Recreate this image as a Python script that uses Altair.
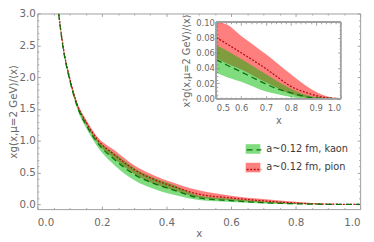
import altair as alt
import pandas as pd

series_names = ["a~0.12 fm, kaon", "a~0.12 fm, pion"]

# ---- main panel: x g(x, mu=2 GeV)/<x> ----
x_main = [0.06, 0.066, 0.08, 0.1, 0.125, 0.15, 0.183, 0.2425, 0.302, 0.362, 0.422, 0.5, 0.6, 0.7, 0.8, 0.9, 1.0]
kaon_lo = [3.25, 2.98, 2.42, 1.93, 1.48, 1.21, 0.93, 0.60, 0.375, 0.24, 0.15, 0.068, 0.037, 0.013, 0.0025, 0.0, 0.0]
kaon_mid = [3.30, 3.00, 2.45, 1.96, 1.52, 1.26, 0.99, 0.69, 0.465, 0.325, 0.225, 0.102, 0.058, 0.027, 0.0094, 0.001, 0.0]
kaon_hi = [3.35, 3.02, 2.48, 1.99, 1.56, 1.30, 1.03, 0.79, 0.565, 0.415, 0.305, 0.14, 0.087, 0.046, 0.016, 0.003, 0.0]
pion_lo = [3.27, 3.00, 2.45, 1.96, 1.52, 1.27, 0.99, 0.70, 0.475, 0.325, 0.225, 0.106, 0.063, 0.030, 0.0075, 0.0, 0.0]
pion_mid = [3.32, 3.02, 2.48, 1.99, 1.55, 1.30, 1.04, 0.765, 0.54, 0.39, 0.28, 0.16, 0.10, 0.056, 0.020, 0.003, 0.0]
pion_hi = [3.37, 3.04, 2.50, 2.02, 1.58, 1.34, 1.08, 0.84, 0.605, 0.455, 0.34, 0.22, 0.137, 0.083, 0.040, 0.008, 0.0]

# ---- inset: x^2 g(x, mu=2 GeV)/<x> ----
x_inset = [0.5, 0.536, 0.6, 0.7, 0.739, 0.8, 0.87, 0.935, 1.0]
kaon_lo_in = [0.034, 0.029, 0.022, 0.0093, 0.0064, 0.002, 0.0, 0.0, 0.0]
kaon_mid_in = [0.051, 0.045, 0.035, 0.019, 0.0135, 0.0075, 0.002, 0.0003, 0.0]
kaon_hi_in = [0.070, 0.064, 0.052, 0.032, 0.024, 0.013, 0.004, 0.0008, 0.0]
pion_lo_in = [0.053, 0.047, 0.038, 0.021, 0.015, 0.006, 0.001, 0.0, 0.0]
pion_mid_in = [0.080, 0.073, 0.060, 0.039, 0.030, 0.016, 0.007, 0.0015, 0.0]
pion_hi_in = [0.110, 0.098, 0.082, 0.058, 0.048, 0.032, 0.015, 0.004, 0.0]

# tick values
main_ticks_x = [0.0, 0.2, 0.4, 0.6, 0.8, 1.0]
main_ticks_y = [0.0, 0.5, 1.0, 1.5, 2.0, 2.5, 3.0]
main_minor_x = [0.05, 0.1, 0.15, 0.25, 0.3, 0.35, 0.45, 0.5, 0.55, 0.65, 0.7, 0.75, 0.85, 0.9, 0.95]
main_minor_y = [0.1, 0.2, 0.3, 0.4, 0.6, 0.7, 0.8, 0.9, 1.1, 1.2, 1.3, 1.4, 1.6, 1.7, 1.8, 1.9,
                2.1, 2.2, 2.3, 2.4, 2.6, 2.7, 2.8, 2.9]
inset_ticks_x = [0.5, 0.6, 0.7, 0.8, 0.9, 1.0]
inset_ticks_y = [0.0, 0.02, 0.04, 0.06, 0.08, 0.10]
inset_minor_x = [0.52, 0.54, 0.56, 0.58, 0.62, 0.64, 0.66, 0.68, 0.72, 0.74, 0.76, 0.78,
                 0.82, 0.84, 0.86, 0.88, 0.92, 0.94, 0.96, 0.98]
inset_minor_y = [0.005, 0.01, 0.015, 0.025, 0.03, 0.035, 0.045, 0.05, 0.055, 0.065, 0.07, 0.075,
                 0.085, 0.09, 0.095]


def frame(xs, lo, mid, hi, name):
    return pd.DataFrame({"x": xs, "lo": lo, "mid": mid, "hi": hi,
                         "series": name, "line": name})


# pion first so that kaon is drawn on top
main_df = pd.concat([frame(x_main, pion_lo, pion_mid, pion_hi, series_names[1]),
                     frame(x_main, kaon_lo, kaon_mid, kaon_hi, series_names[0])])
inset_df = pd.concat([frame(x_inset, pion_lo_in, pion_mid_in, pion_hi_in, series_names[1]),
                      frame(x_inset, kaon_lo_in, kaon_mid_in, kaon_hi_in, series_names[0])])

FONT = "DejaVu Sans"
GRAY = "#a0a0a0"
TXT = "#6a6a6a"
W, H = 330, 200

fill_legend = alt.Legend(orient="none", legendX=213, legendY=131, title=None,
                         symbolType="M-1,-0.65H1V0.65H-1Z", symbolSize=225,
                         symbolOpacity=0.5, symbolStrokeWidth=0,
                         labelFont=FONT, labelFontSize=10, labelColor="#3a3a3a",
                         labelOffset=6, rowPadding=6, padding=0, offset=0)
line_legend = alt.Legend(orient="none", legendX=213, legendY=131, title=None,
                         symbolType="stroke", symbolSize=225, symbolStrokeWidth=1.3,
                         labelFont=FONT, labelFontSize=10, labelExpr="''",
                         labelOffset=6, rowPadding=6, padding=0, offset=0)

fill_enc = alt.Fill("series:N", scale=alt.Scale(range=["#00b900", "#ff0000"]), legend=fill_legend)
stroke_enc = alt.Stroke("line:N", scale=alt.Scale(range=["#0a700a", "#b01010"]), legend=line_legend)
dash_enc = alt.StrokeDash("line:N", scale=alt.Scale(range=[[6, 4], [2, 1.6]]), legend=line_legend)


def tick_axis(orient, offset, size, values):
    return alt.Axis(orient=orient, offset=offset, tickSize=size, values=values,
                    labels=False, domain=False, grid=False, title=None)


# ---- main axes / scales ----
def mx_scale():
    return alt.Scale(domain=[0, 1], nice=False, zero=False)


def my_scale():
    return alt.Scale(domain=[-0.075, 3.0], nice=False, zero=False)


mx_axis = alt.Axis(orient="bottom", offset=-3, tickSize=3, domain=False, grid=False,
                   values=main_ticks_x, format=".1f", labelFontSize=10.5, labelPadding=9,
                   title="x", titlePadding=1, titleFontSize=10.5)
my_axis = alt.Axis(orient="left", offset=-3, tickSize=3, domain=False, grid=False,
                   values=main_ticks_y, format=".1f", labelFontSize=10.5, labelPadding=2,
                   title="xg(x,μ=2 GeV)/⟨x⟩", titlePadding=1, titleFontSize=10.5)

main_base = alt.Chart(main_df)
main_area = main_base.mark_area(clip=True, interpolate="monotone", fillOpacity=0.5).encode(
    x=alt.X("x:Q", scale=mx_scale(), axis=mx_axis),
    y=alt.Y("lo:Q", scale=my_scale(), axis=my_axis),
    y2="hi:Q",
    fill=fill_enc,
)
main_line = main_base.mark_line(clip=True, interpolate="monotone", strokeWidth=1.3).encode(
    x=alt.X("x:Q", scale=mx_scale(), axis=mx_axis),
    y=alt.Y("mid:Q", scale=my_scale(), axis=my_axis),
    stroke=stroke_enc,
    strokeDash=dash_enc,
)
main = alt.layer(main_area, main_line)


def ghost(df, xs, ys, xaxis, yaxis):
    return alt.Chart(df).mark_point(opacity=0, clip=True).encode(
        x=alt.X("x:Q", scale=xs, axis=xaxis),
        y=alt.Y("mid:Q", scale=ys, axis=yaxis),
    )


main_g1 = ghost(main_df, mx_scale(), my_scale(),
                tick_axis("top", -3, 3, main_ticks_x), tick_axis("right", -3, 3, main_ticks_y))
main_g2 = ghost(main_df, mx_scale(), my_scale(),
                tick_axis("bottom", -1.5, 1.5, main_minor_x), tick_axis("left", -1.5, 1.5, main_minor_y))
main_g3 = ghost(main_df, mx_scale(), my_scale(),
                tick_axis("top", -1.5, 1.5, main_minor_x), tick_axis("right", -1.5, 1.5, main_minor_y))

# ---- inset axes / scales (placed inside the same view) ----
IX = [183, 310]
IY = [87, 9]


def ix_scale():
    return alt.Scale(domain=[0.5, 1.0], range=IX, nice=False, zero=False)


def iy_scale():
    return alt.Scale(domain=[0.0, 0.1], range=IY, nice=False, zero=False, clamp=True)


ix_axis = alt.Axis(orient="bottom", offset=-(H - IY[0] + 3), tickSize=3, domain=False, grid=False,
                   values=inset_ticks_x, format=".1f", labelFontSize=8.6, labelPadding=5,
                   title="x", titlePadding=4, titleFontSize=10)
iy_axis = alt.Axis(orient="left", offset=-(IX[0] + 3), tickSize=3, domain=False, grid=False,
                   values=inset_ticks_y, format=".2f", labelFontSize=8.6, labelPadding=2,
                   title="x²g(x,μ=2 GeV)/⟨x⟩", titlePadding=4, titleFontSize=10)

inset_base = alt.Chart(inset_df)
inset_area = inset_base.mark_area(interpolate="monotone", fillOpacity=0.5).encode(
    x=alt.X("x:Q", scale=ix_scale(), axis=ix_axis),
    y=alt.Y("lo:Q", scale=iy_scale(), axis=iy_axis),
    y2="hi:Q",
    fill=fill_enc,
)
inset_line = inset_base.mark_line(interpolate="monotone", strokeWidth=1.3).encode(
    x=alt.X("x:Q", scale=ix_scale(), axis=ix_axis),
    y=alt.Y("mid:Q", scale=iy_scale(), axis=iy_axis),
    stroke=stroke_enc,
    strokeDash=dash_enc,
)
inset_frame = alt.Chart(inset_df).mark_rect(fillOpacity=0, stroke=GRAY, strokeWidth=1).encode(
    x=alt.X(datum=inset_ticks_x[0], scale=ix_scale(), axis=ix_axis),
    x2=alt.X2(datum=inset_ticks_x[-1]),
    y=alt.Y(datum=inset_ticks_y[0], scale=iy_scale(), axis=iy_axis),
    y2=alt.Y2(datum=inset_ticks_y[-1]),
)
inset = alt.layer(inset_area, inset_line, inset_frame)

in_g1 = ghost(inset_df, ix_scale(), iy_scale(),
              tick_axis("top", -(IY[1] + 3), 3, inset_ticks_x),
              tick_axis("right", -(W - IX[1] + 3), 3, inset_ticks_y))
in_g2 = ghost(inset_df, ix_scale(), iy_scale(),
              tick_axis("bottom", -(H - IY[0] + 1.5), 1.5, inset_minor_x),
              tick_axis("left", -(IX[0] + 1.5), 1.5, inset_minor_y))
in_g3 = ghost(inset_df, ix_scale(), iy_scale(),
              tick_axis("top", -(IY[1] + 1.5), 1.5, inset_minor_x),
              tick_axis("right", -(W - IX[1] + 1.5), 1.5, inset_minor_y))

chart = alt.layer(main, main_g1, main_g2, main_g3, inset, in_g1, in_g2, in_g3).resolve_scale(
    x="independent", y="independent"
).properties(
    width=W, height=H,
    autosize=alt.AutoSizeParams(type="none"),
    padding={"left": 30, "top": 3, "right": 6, "bottom": 31},
    background="white",
).configure_view(stroke=GRAY, strokeWidth=1).configure_axis(
    labelFont=FONT, titleFont=FONT, labelColor=TXT, titleColor=TXT,
    tickColor=GRAY, titleFontWeight="normal",
)

chart.save("out.html", embed_options={"renderer": "svg", "actions": False})
